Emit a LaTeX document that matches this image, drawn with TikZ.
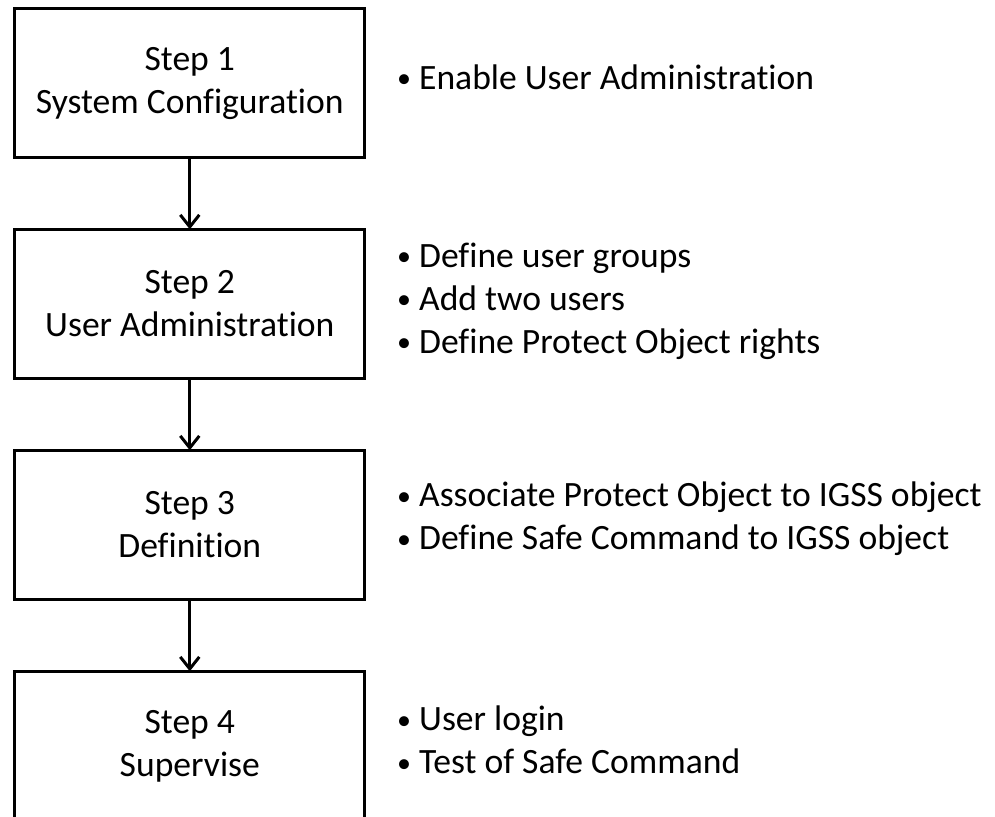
\documentclass[tikz,border=0pt]{standalone}
\usepackage{fontspec}
\setmainfont{Carlito}[Ligatures=NoCommon]
\usetikzlibrary{positioning, arrows.meta}

\newcommand{\itm}{\makebox[22pt][l]{\raisebox{1.5pt}{\fontsize{28}{28}\selectfont\textbullet}}}

\begin{document}
\begin{tikzpicture}[
  x=1pt, y=-1pt,
  node distance=71.5pt and 32pt,
  font=\fontsize{35.6}{43}\selectfont,
  stepbox/.style={rectangle, draw, line width=3pt, minimum width=350.3pt,
                  minimum height=149.5pt, align=center, inner sep=0pt, outer sep=0pt},
  notes/.style={align=left, inner sep=0pt, yshift=6pt},
  arr/.style={-{Straight Barb[length=12pt, width=19pt, line width=3pt]}, line width=3pt}
]
\useasboundingbox (0,0) rectangle (995,816);

% Steps
\node[stepbox] (s1) at (189.8,83.05) {Step 1\\System Configuration};
\node[stepbox, below=of s1] (s2) {Step 2\\User Administration};
\node[stepbox, below=of s2] (s3) {Step 3\\Definition};
\node[stepbox, below=of s3] (s4) {Step 4\\Supervise};

% Notes on the right
\node[notes, right=of s1] (n1) {\itm Enable User Administration};
\node[notes, right=of s2, yshift=-3pt] (n2) {\itm Define user groups\\\itm Add two users\\\itm Define Protect Object rights};
\node[notes, right=of s3] (n3) {\itm Associate Protect Object to IGSS object\\\itm Define Safe Command to IGSS object};
\node[notes, right=of s4] (n4) {\itm User login\\\itm Test of Safe Command};

% Arrows
\draw[arr] (s1) -- (s2);
\draw[arr] (s2) -- (s3);
\draw[arr] (s3) -- (s4);
\end{tikzpicture}
\end{document}
